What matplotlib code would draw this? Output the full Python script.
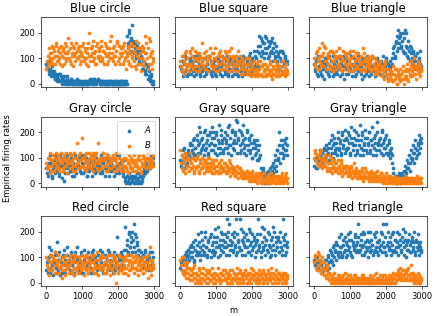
import matplotlib
matplotlib.use("Agg")
import matplotlib.pyplot as plt

# sample positions along m: every 30 steps, plus the in-between points
m = list(range(0, 3000, 30))
m_mid = list(range(15, 3000, 30))

titles = ["Blue circle", "Blue square", "Blue triangle",
          "Gray circle", "Gray square", "Gray triangle",
          "Red circle", "Red square", "Red triangle"]

blue_circle_a = [80, 60, 50, 90, 40, 70, 30, 50, 20, 40,
                 30, 20, 10, 40, 20, 10, 30, 10, 0, 20,
                 10, 0, 10, 20, 0, 10, 0, 10, 0, 10,
                 0, 10, 0, 0, 10, 0, 10, 0, 0, 10,
                 10, 20, 10, 0, 20, 10, 0, 10, 20, 10,
                 0, 10, 0, 10, 0, 0, 10, 0, 10, 0,
                 10, 0, 0, 10, 0, 10, 0, 0, 10, 0,
                 10, 0, 0, 0, 10, 190, 150, 210, 170, 130,
                 230, 160, 140, 110, 150, 120, 90, 130, 80, 100,
                 60, 90, 50, 40, 70, 30, 20, 40, 10, 0]
blue_circle_a2 = [70, 90, 40, 60, 30, 50, 40, 20, 30, 10,
                  20, 40, 10, 30, 0, 20, 10, 0, 10, 30,
                  0, 10, 20, 0, 10, 0, 10, 0, 20, 0,
                  10, 0, 10, 0, 0, 10, 0, 10, 0, 0,
                  20, 10, 0, 10, 20, 0, 10, 20, 10, 0,
                  10, 0, 10, 0, 10, 0, 0, 10, 0, 10,
                  0, 10, 0, 0, 10, 0, 10, 0, 0, 10,
                  0, 10, 0, 10, 0, 160, 200, 130, 180, 150,
                  170, 120, 160, 100, 130, 80, 140, 110, 60, 90,
                  70, 40, 80, 60, 20, 50, 10, 30, 0, 10]
blue_circle_b = [60, 110, 80, 120, 90, 150, 100, 130, 80, 150,
                 110, 90, 140, 120, 70, 130, 100, 160, 90, 120,
                 180, 100, 140, 80, 120, 150, 110, 90, 130, 100,
                 150, 80, 120, 110, 160, 90, 130, 100, 140, 70,
                 200, 110, 150, 90, 120, 130, 80, 160, 100, 140,
                 110, 170, 90, 130, 120, 150, 80, 110, 140, 100,
                 190, 120, 90, 150, 110, 130, 160, 100, 80, 140,
                 120, 150, 90, 130, 60, 110, 140, 80, 120, 160,
                 100, 130, 70, 170, 110, 80, 140, 120, 50, 100,
                 140, 90, 190, 120, 60, 180, 110, 80, 130, 90]
blue_circle_b2 = [90, 70, 140, 100, 120, 80, 140, 110, 160, 90,
                  130, 100, 80, 150, 110, 140, 80, 120, 150, 100,
                  130, 90, 160, 110, 70, 140, 120, 160, 100, 140,
                  110, 130, 90, 150, 100, 140, 80, 120, 160, 110,
                  90, 140, 120, 170, 100, 80, 150, 110, 130, 90,
                  150, 100, 130, 80, 160, 110, 140, 90, 120, 170,
                  100, 140, 110, 80, 130, 170, 90, 150, 120, 110,
                  140, 80, 160, 100, 120, 90, 150, 130, 70, 110,
                  150, 90, 120, 60, 140, 160, 100, 80, 150, 130,
                  70, 120, 160, 100, 140, 80, 170, 120, 60, 100]

blue_square_a = [70, 50, 90, 40, 110, 60, 30, 80, 50, 100,
                 40, 70, 90, 30, 60, 110, 50, 80, 40, 70,
                 90, 60, 30, 100, 50, 80, 60, 110, 40, 70,
                 50, 90, 70, 30, 60, 100, 80, 40, 70, 110,
                 60, 40, 90, 70, 30, 80, 100, 50, 60, 90,
                 40, 70, 110, 60, 30, 80, 50, 90, 70, 40,
                 100, 60, 80, 40, 70, 120, 50, 90, 60, 110,
                 80, 130, 70, 190, 150, 110, 170, 120, 160, 140,
                 180, 100, 150, 120, 170, 90, 140, 160, 110, 130,
                 80, 120, 60, 100, 130, 70, 90, 110, 50, 80]
blue_square_a2 = [60, 90, 30, 80, 50, 100, 70, 40, 90, 60,
                  80, 50, 110, 70, 40, 90, 60, 100, 30, 80,
                  50, 100, 70, 40, 80, 60, 110, 50, 90, 30,
                  80, 60, 40, 100, 70, 50, 90, 60, 30, 80,
                  100, 50, 70, 110, 40, 60, 90, 30, 80, 70,
                  60, 90, 40, 80, 100, 50, 70, 30, 110, 60,
                  50, 90, 70, 110, 40, 80, 100, 60, 130, 70,
                  100, 60, 150, 120, 180, 130, 160, 100, 190, 120,
                  140, 170, 110, 160, 130, 180, 120, 100, 150, 90,
                  110, 60, 130, 90, 50, 120, 80, 100, 60, 90]
blue_square_b = [90, 60, 110, 40, 80, 130, 70, 100, 50, 120,
                 80, 140, 60, 100, 70, 120, 90, 50, 110, 80,
                 160, 70, 100, 60, 130, 90, 50, 110, 80, 120,
                 60, 100, 140, 70, 90, 50, 120, 80, 110, 60,
                 100, 130, 70, 90, 50, 110, 80, 140, 60, 100,
                 80, 50, 110, 70, 130, 90, 60, 100, 40, 80,
                 60, 100, 40, 80, 50, 90, 30, 70, 50, 60,
                 40, 80, 30, 60, 90, 40, 70, 30, 50, 80,
                 30, 60, 40, 90, 50, 20, 70, 40, 60, 30,
                 80, 50, 30, 70, 40, 90, 50, 30, 60, 40]
blue_square_b2 = [70, 110, 50, 90, 120, 60, 100, 80, 130, 70,
                  110, 60, 90, 130, 50, 100, 70, 120, 60, 100,
                  90, 120, 60, 80, 110, 50, 100, 140, 70, 90,
                  120, 70, 100, 50, 110, 80, 130, 60, 90, 100,
                  80, 60, 120, 100, 70, 130, 50, 90, 110, 70,
                  100, 70, 90, 50, 80, 110, 40, 70, 90, 60,
                  80, 50, 70, 100, 40, 60, 80, 40, 90, 30,
                  60, 50, 90, 40, 70, 30, 80, 50, 60, 40,
                  70, 40, 50, 80, 30, 60, 40, 90, 50, 70,
                  40, 70, 60, 40, 90, 50, 70, 40, 80, 50]

blue_triangle_a = [80, 50, 100, 30, 70, 110, 40, 90, 60, 20,
                   70, 100, 50, 80, 30, 90, 60, 110, 40, 70,
                   90, 40, 60, 100, 30, 80, 50, 110, 70, 40,
                   60, 90, 120, 50, 80, 30, 70, 100, 60, 40,
                   80, 110, 50, 70, 20, 90, 60, 100, 40, 80,
                   60, 30, 90, 70, 110, 50, 80, 40, 100, 60,
                   70, 40, 90, 60, 30, 80, 50, 100, 20, 70,
                   60, 40, 80, 120, 150, 100, 170, 130, 210, 160,
                   190, 140, 200, 120, 210, 150, 110, 170, 130, 90,
                   140, 100, 120, 70, 110, 90, 60, 100, 80, 70]
blue_triangle_a2 = [60, 90, 40, 110, 70, 50, 90, 30, 80, 100,
                    50, 80, 40, 110, 70, 50, 90, 30, 80, 60,
                    50, 80, 110, 60, 90, 40, 70, 20, 100, 60,
                    90, 40, 70, 60, 110, 50, 80, 30, 90, 70,
                    50, 70, 90, 40, 100, 60, 30, 80, 110, 50,
                    90, 70, 40, 100, 60, 80, 30, 70, 50, 90,
                    40, 80, 60, 110, 50, 70, 90, 40, 80, 60,
                    90, 70, 100, 140, 110, 160, 190, 140, 180, 200,
                    150, 170, 130, 180, 120, 200, 140, 100, 150, 120,
                    80, 130, 90, 110, 60, 120, 80, 90, 130, 60]
blue_triangle_b = [100, 70, 130, 90, 60, 110, 80, 160, 120, 70,
                   140, 90, 60, 120, 100, 70, 130, 50, 90, 110,
                   60, 100, 80, 140, 70, 110, 50, 90, 120, 80,
                   100, 60, 90, 130, 70, 50, 110, 80, 60, 100,
                   70, 120, 90, 50, 80, 140, 60, 100, 70, 90,
                   110, 60, 80, 50, 100, 70, 40, 90, 60, 80,
                   50, 90, 70, 30, 60, 20, 80, 40, 10, 60,
                   30, 50, 10, 70, 40, 20, 60, 0, 50, 30,
                   10, 40, 70, 20, 50, 30, 80, 10, 60, 40,
                   90, 30, 60, 100, 40, 70, 50, 80, 30, 60]
blue_triangle_b2 = [80, 120, 60, 100, 140, 90, 70, 110, 150, 90,
                    60, 110, 80, 100, 130, 60, 90, 120, 70, 100,
                    130, 70, 110, 60, 90, 100, 130, 60, 80, 110,
                    70, 120, 50, 80, 100, 130, 60, 90, 120, 70,
                    100, 60, 80, 110, 60, 90, 120, 50, 80, 100,
                    70, 90, 50, 110, 60, 80, 100, 50, 70, 40,
                    80, 60, 40, 70, 50, 90, 30, 60, 40, 20,
                    50, 20, 40, 10, 60, 30, 0, 40, 20, 60,
                    40, 20, 50, 0, 30, 60, 20, 50, 30, 70,
                    50, 80, 40, 70, 20, 60, 90, 40, 70, 50]

gray_circle_a = [60, 30, 80, 110, 50, 20, 90, 70, 40, 100,
                 60, 90, 30, 110, 70, 50, 10, 80, 100, 60,
                 40, 90, 70, 110, 50, 80, 30, 60, 100, 70,
                 90, 50, 110, 70, 40, 80, 60, 100, 30, 70,
                 50, 90, 80, 110, 60, 40, 100, 70, 50, 90,
                 70, 110, 40, 80, 60, 100, 50, 90, 30, 70,
                 80, 50, 100, 60, 90, 40, 70, 110, 50, 80,
                 60, 30, 90, 20, 0, 30, 10, 40, 0, 20,
                 10, 0, 30, 20, 0, 40, 10, 30, 0, 20,
                 30, 50, 40, 70, 60, 90, 80, 110, 70, 100]
gray_circle_a2 = [40, 70, 100, 50, 80, 30, 60, 90, 110, 50,
                  80, 40, 70, 100, 20, 90, 60, 40, 80, 110,
                  70, 50, 100, 30, 80, 60, 110, 40, 70, 90,
                  60, 100, 40, 80, 110, 50, 90, 30, 60, 80,
                  100, 60, 30, 70, 90, 110, 50, 80, 60, 40,
                  90, 50, 80, 100, 30, 70, 110, 60, 80, 50,
                  100, 70, 30, 90, 50, 110, 60, 40, 80, 70,
                  90, 40, 60, 10, 30, 0, 20, 0, 30, 10,
                  30, 20, 0, 10, 40, 20, 0, 30, 10, 40,
                  60, 40, 80, 50, 100, 70, 60, 90, 110, 80]
gray_circle_b = [80, 60, 100, 40, 90, 70, 110, 50, 80, 120,
                 70, 90, 50, 100, 80, 60, 110, 90, 70, 40,
                 100, 80, 120, 60, 90, 70, 100, 50, 160, 80,
                 110, 60, 90, 180, 70, 100, 80, 120, 60, 90,
                 70, 110, 90, 50, 100, 80, 120, 60, 160, 90,
                 80, 100, 60, 120, 90, 70, 110, 50, 100, 80,
                 60, 90, 110, 70, 100, 50, 80, 120, 60, 90,
                 80, 50, 100, 70, 60, 90, 40, 80, 70, 100,
                 60, 90, 50, 80, 70, 100, 60, 90, 50, 80,
                 110, 70, 90, 60, 100, 80, 120, 70, 90, 110]
gray_circle_b2 = [60, 100, 70, 120, 50, 90, 80, 100, 60, 90,
                  110, 60, 80, 120, 90, 50, 100, 70, 120, 80,
                  90, 60, 110, 80, 50, 120, 70, 100, 80, 60,
                  90, 120, 70, 100, 60, 110, 50, 90, 80, 120,
                  100, 60, 80, 120, 70, 110, 90, 50, 80, 100,
                  60, 90, 120, 70, 100, 50, 80, 110, 60, 90,
                  100, 70, 50, 90, 120, 80, 60, 100, 70, 50,
                  90, 70, 60, 100, 50, 80, 110, 60, 90, 50,
                  80, 110, 70, 50, 90, 60, 110, 40, 70, 100,
                  80, 100, 60, 120, 70, 90, 60, 100, 80, 70]

gray_square_a = [90, 60, 130, 80, 100, 70, 120, 90, 110, 150,
                 100, 130, 170, 110, 140, 190, 120, 160, 200, 130,
                 180, 150, 110, 210, 140, 170, 120, 190, 160, 220,
                 130, 180, 150, 200, 110, 170, 230, 140, 190, 160,
                 120, 200, 170, 140, 220, 150, 180, 110, 210, 160,
                 130, 190, 250, 240, 170, 120, 200, 160, 230, 140,
                 180, 110, 210, 150, 170, 130, 190, 100, 160, 140,
                 120, 170, 90, 150, 110, 60, 30, 50, 0, 20,
                 40, 10, 30, 60, 20, 50, 80, 60, 110, 70,
                 130, 90, 200, 120, 150, 100, 170, 130, 180, 110]
gray_square_a2 = [70, 110, 90, 140, 60, 110, 80, 130, 160, 100,
                  150, 120, 180, 140, 110, 170, 150, 220, 120, 170,
                  140, 200, 130, 160, 190, 110, 150, 200, 130, 180,
                  200, 150, 120, 190, 140, 160, 120, 210, 170, 130,
                  180, 140, 160, 190, 120, 230, 150, 200, 140, 170,
                  200, 160, 120, 180, 210, 150, 130, 190, 170, 120,
                  150, 200, 130, 180, 120, 160, 100, 140, 170, 110,
                  150, 90, 130, 100, 40, 20, 60, 10, 30, 0,
                  20, 50, 0, 40, 30, 70, 40, 90, 50, 130,
                  100, 150, 80, 170, 120, 140, 110, 160, 130, 150]
gray_square_b = [130, 60, 100, 80, 40, 110, 70, 90, 50, 120,
                 80, 60, 100, 40, 90, 70, 110, 50, 80, 60,
                 100, 70, 40, 90, 60, 80, 50, 100, 70, 40,
                 80, 60, 90, 50, 70, 40, 80, 60, 90, 50,
                 60, 80, 40, 70, 50, 90, 30, 60, 70, 40,
                 60, 30, 50, 70, 40, 60, 30, 50, 40, 20,
                 40, 30, 50, 20, 40, 10, 30, 40, 20, 30,
                 10, 30, 20, 40, 10, 30, 0, 20, 40, 10,
                 20, 0, 30, 10, 40, 20, 10, 30, 0, 20,
                 10, 30, 20, 0, 40, 10, 20, 30, 10, 20]
gray_square_b2 = [80, 110, 50, 90, 120, 60, 100, 70, 90, 60,
                  100, 70, 50, 90, 60, 100, 70, 40, 90, 80,
                  60, 90, 80, 50, 70, 100, 60, 80, 50, 90,
                  60, 40, 70, 90, 50, 80, 40, 70, 50, 60,
                  80, 50, 70, 40, 60, 50, 80, 40, 50, 60,
                  30, 50, 40, 20, 60, 40, 50, 20, 40, 30,
                  20, 50, 30, 10, 40, 20, 50, 10, 30, 20,
                  40, 0, 20, 30, 0, 20, 40, 10, 20, 0,
                  30, 10, 20, 40, 0, 10, 30, 20, 0, 30,
                  0, 20, 10, 30, 20, 0, 10, 20, 40, 0]

gray_triangle_a = [70, 100, 60, 90, 80, 110, 70, 120, 90, 130,
                   100, 150, 110, 140, 90, 170, 120, 150, 180, 130,
                   160, 110, 200, 140, 170, 120, 190, 150, 210, 130,
                   170, 140, 190, 110, 220, 160, 130, 180, 150, 200,
                   120, 170, 230, 140, 190, 110, 160, 210, 130, 180,
                   150, 200, 120, 170, 220, 140, 190, 110, 240, 160,
                   130, 180, 150, 200, 110, 170, 140, 190, 120, 160,
                   100, 140, 110, 40, 20, 10, 30, 0, 20, 40,
                   10, 30, 20, 50, 70, 40, 90, 60, 110, 80,
                   130, 100, 150, 120, 170, 110, 160, 190, 140, 180]
gray_triangle_a2 = [90, 60, 100, 70, 90, 130, 80, 100, 140, 110,
                    130, 90, 120, 160, 110, 140, 190, 100, 160, 120,
                    140, 180, 130, 160, 110, 200, 140, 170, 120, 180,
                    140, 200, 160, 120, 180, 150, 210, 110, 170, 130,
                    190, 150, 110, 170, 200, 130, 150, 180, 120, 160,
                    200, 130, 170, 150, 110, 180, 160, 130, 200, 150,
                    170, 120, 210, 160, 140, 180, 120, 150, 110, 170,
                    130, 120, 80, 60, 30, 0, 20, 10, 30, 0,
                    20, 40, 10, 30, 50, 20, 60, 80, 50, 100,
                    90, 120, 80, 140, 100, 130, 150, 120, 170, 160]
gray_triangle_b = [100, 130, 80, 110, 70, 120, 90, 60, 100, 80,
                   70, 90, 50, 80, 60, 100, 40, 70, 90, 50,
                   80, 60, 40, 70, 50, 90, 30, 60, 40, 70,
                   50, 30, 60, 40, 70, 20, 50, 80, 30, 60,
                   40, 20, 50, 30, 60, 10, 40, 30, 50, 20,
                   40, 10, 30, 50, 20, 40, 10, 30, 50, 20,
                   30, 10, 40, 20, 0, 30, 10, 40, 20, 10,
                   30, 0, 20, 10, 30, 0, 20, 10, 0, 20,
                   10, 0, 20, 10, 0, 30, 10, 0, 20, 10,
                   0, 20, 10, 0, 10, 30, 0, 10, 20, 0]
gray_triangle_b2 = [120, 90, 110, 70, 100, 80, 130, 70, 90, 110,
                    90, 60, 80, 110, 50, 80, 60, 90, 60, 80,
                    50, 90, 60, 40, 80, 50, 70, 40, 60, 50,
                    70, 40, 50, 30, 60, 40, 30, 50, 40, 20,
                    50, 30, 40, 20, 50, 30, 20, 60, 20, 40,
                    30, 20, 40, 10, 30, 20, 40, 20, 10, 30,
                    20, 40, 10, 30, 20, 10, 0, 20, 30, 0,
                    10, 20, 10, 0, 20, 10, 0, 20, 10, 0,
                    20, 10, 0, 10, 20, 0, 10, 20, 0, 10,
                    20, 0, 10, 20, 0, 10, 20, 0, 10, 20]

red_circle_a = [50, 90, 140, 40, 110, 70, 30, 80, 120, 60,
                160, 50, 90, 30, 100, 70, 130, 40, 80, 110,
                60, 90, 40, 120, 70, 100, 30, 80, 140, 60,
                90, 50, 110, 70, 40, 130, 80, 60, 100, 120,
                70, 40, 90, 130, 60, 100, 80, 50, 110, 70,
                90, 60, 120, 40, 80, 100, 70, 130, 50, 90,
                110, 70, 40, 100, 60, 80, 180, 90, 50, 120,
                70, 100, 60, 220, 130, 170, 110, 190, 140, 160,
                200, 230, 120, 180, 150, 110, 130, 90, 120, 70,
                100, 60, 130, 80, 110, 50, 90, 70, 120, 60]
red_circle_a2 = [80, 40, 100, 60, 130, 50, 90, 110, 70, 40,
                 90, 120, 60, 80, 40, 110, 50, 90, 70, 140,
                 80, 50, 110, 70, 90, 40, 120, 60, 90, 100,
                 50, 80, 120, 40, 90, 60, 110, 70, 40, 80,
                 100, 60, 120, 80, 40, 90, 70, 110, 60, 130,
                 80, 50, 100, 70, 110, 40, 90, 60, 120, 80,
                 60, 90, 120, 50, 80, 110, 60, 100, 70, 90,
                 110, 60, 130, 90, 150, 120, 200, 140, 180, 120,
                 170, 140, 190, 110, 160, 130, 80, 100, 60, 110,
                 80, 120, 60, 90, 70, 100, 120, 50, 80, 100]
red_circle_b = [100, 60, 30, 80, 110, 50, 90, 70, 120, 40,
                80, 110, 60, 90, 20, 70, 100, 50, 80, 60,
                90, 40, 70, 110, 50, 80, 30, 100, 60, 70,
                40, 90, 60, 110, 70, 30, 80, 50, 100, 60,
                70, 110, 50, 80, 40, 90, 60, 120, 30, 70,
                90, 50, 100, 60, 80, 40, 70, 110, 60, 30,
                80, 60, 110, 40, 90, 0, 70, 50, 100, 60,
                80, 40, 70, 100, 60, 90, 30, 80, 50, 110,
                70, 40, 90, 60, 100, 30, 80, 50, 70, 90,
                40, 80, 60, 100, 20, 70, 140, 50, 90, 60]
red_circle_b2 = [70, 90, 50, 110, 80, 60, 100, 40, 90, 70,
                 110, 40, 90, 70, 50, 100, 80, 30, 110, 70,
                 60, 100, 80, 40, 90, 60, 110, 50, 80, 40,
                 100, 70, 50, 80, 100, 60, 110, 80, 40, 90,
                 50, 80, 100, 60, 110, 70, 40, 90, 60, 100,
                 60, 110, 70, 40, 100, 80, 50, 90, 70, 110,
                 50, 90, 70, 100, 60, 80, 40, 110, 70, 50,
                 100, 60, 90, 40, 110, 70, 50, 90, 60, 80,
                 100, 60, 80, 110, 50, 70, 90, 60, 100, 40,
                 70, 100, 50, 80, 110, 60, 90, 30, 80, 70]

red_square_a = [60, 90, 40, 80, 110, 70, 100, 130, 90, 120,
                150, 100, 140, 80, 170, 120, 110, 160, 90, 200,
                130, 150, 110, 180, 140, 100, 170, 130, 190, 120,
                160, 110, 210, 140, 180, 100, 150, 170, 130, 190,
                120, 160, 140, 250, 200, 110, 170, 150, 190, 130,
                180, 140, 250, 120, 160, 250, 130, 170, 200, 150,
                110, 190, 140, 170, 120, 200, 160, 130, 180, 150,
                120, 170, 250, 140, 190, 100, 160, 130, 210, 150,
                170, 120, 190, 140, 110, 180, 150, 200, 130, 160,
                140, 180, 120, 160, 130, 250, 170, 110, 150, 140]
red_square_a2 = [80, 50, 100, 70, 90, 120, 80, 110, 140, 100,
                 120, 160, 90, 130, 110, 150, 190, 120, 140, 110,
                 170, 120, 200, 140, 110, 160, 130, 180, 100, 150,
                 130, 180, 120, 160, 220, 140, 110, 200, 150, 170,
                 140, 190, 110, 180, 150, 230, 130, 160, 120, 200,
                 150, 110, 190, 170, 140, 130, 210, 110, 160, 180,
                 140, 170, 120, 210, 150, 110, 190, 140, 170, 100,
                 160, 190, 130, 150, 120, 220, 140, 180, 110, 170,
                 130, 200, 150, 100, 170, 130, 220, 110, 180, 140,
                 170, 120, 200, 140, 110, 180, 150, 190, 120, 160]
red_square_b = [90, 50, 100, 30, 70, 40, 80, 20, 60, 30,
                50, 10, 40, 70, 20, 30, 0, 50, 10, 40,
                20, 60, 10, 30, 0, 40, 20, 50, 10, 30,
                0, 20, 40, 10, 30, 60, 20, 0, 40, 10,
                30, 50, 10, 20, 40, 0, 30, 10, 50, 20,
                40, 10, 30, 60, 20, 0, 40, 20, 10, 30,
                50, 20, 0, 30, 10, 40, 60, 20, 30, 10,
                0, 40, 20, 50, 10, 30, 20, 0, 40, 10,
                30, 50, 20, 10, 40, 0, 20, 30, 10, 50,
                20, 0, 40, 10, 30, 20, 0, 40, 10, 20]
red_square_b2 = [70, 100, 40, 80, 50, 20, 60, 40, 10, 50,
                 30, 60, 20, 0, 40, 10, 30, 60, 20, 0,
                 40, 10, 30, 50, 20, 0, 40, 10, 30, 60,
                 20, 40, 0, 30, 10, 20, 40, 10, 30, 50,
                 10, 20, 40, 0, 30, 20, 50, 0, 20, 40,
                 20, 30, 0, 40, 10, 50, 20, 30, 0, 40,
                 30, 0, 40, 10, 20, 0, 30, 50, 10, 40,
                 20, 10, 30, 0, 40, 20, 50, 10, 30, 20,
                 0, 40, 10, 30, 60, 20, 40, 0, 30, 20,
                 40, 10, 30, 20, 0, 40, 10, 30, 0, 30]

red_triangle_a = [90, 70, 100, 60, 80, 50, 70, 40, 80, 60,
                  50, 90, 70, 110, 60, 120, 80, 140, 100, 130,
                  90, 150, 110, 180, 120, 140, 100, 170, 130, 160,
                  110, 190, 140, 120, 170, 100, 150, 130, 180, 120,
                  160, 230, 130, 170, 110, 150, 190, 120, 140, 170,
                  100, 160, 200, 130, 150, 120, 180, 140, 160, 110,
                  170, 130, 150, 190, 230, 140, 120, 230, 160, 130,
                  180, 110, 150, 200, 130, 170, 120, 160, 140, 190,
                  150, 120, 210, 140, 170, 100, 160, 130, 190, 150,
                  120, 170, 140, 200, 110, 160, 130, 150, 140, 120]
red_triangle_a2 = [70, 100, 80, 50, 70, 90, 40, 60, 50, 90,
                   70, 50, 100, 80, 130, 90, 110, 70, 150, 120,
                   160, 120, 100, 140, 190, 110, 150, 120, 180, 100,
                   150, 130, 170, 200, 110, 160, 140, 190, 150, 130,
                   180, 120, 150, 190, 140, 200, 110, 160, 130, 200,
                   140, 120, 170, 150, 110, 190, 130, 200, 120, 160,
                   140, 200, 120, 160, 140, 180, 110, 150, 200, 140,
                   160, 130, 190, 120, 170, 140, 200, 110, 150, 170,
                   130, 180, 160, 110, 200, 150, 130, 170, 120, 160,
                   180, 130, 160, 120, 170, 140, 190, 110, 160, 130]
red_triangle_b = [80, 110, 50, 120, 70, 90, 40, 100, 60, 80,
                  50, 30, 70, 20, 40, 10, 30, 0, 20, 10,
                  0, 20, 10, 30, 0, 10, 20, 0, 40, 10,
                  20, 0, 10, 30, 0, 20, 10, 0, 30, 10,
                  0, 20, 10, 0, 30, 10, 20, 0, 10, 20,
                  0, 10, 30, 0, 20, 10, 0, 40, 10, 20,
                  0, 30, 10, 20, 0, 10, 30, 0, 20, 10,
                  20, 0, 10, 40, 20, 0, 30, 10, 50, 20,
                  40, 10, 30, 50, 20, 40, 10, 60, 30, 20,
                  70, 10, 30, 0, 20, 10, 40, 0, 20, 10]
red_triangle_b2 = [100, 60, 90, 70, 110, 50, 80, 60, 30, 50,
                   20, 60, 40, 10, 30, 0, 20, 10, 40, 0,
                   10, 30, 0, 20, 10, 0, 30, 10, 0, 20,
                   10, 30, 0, 10, 20, 0, 30, 10, 20, 0,
                   20, 10, 0, 20, 10, 30, 0, 20, 10, 0,
                   20, 0, 10, 20, 0, 30, 10, 0, 20, 10,
                   10, 0, 20, 30, 10, 0, 20, 10, 0, 30,
                   0, 30, 20, 0, 30, 10, 40, 20, 30, 60,
                   20, 50, 30, 10, 40, 20, 50, 30, 10, 40,
                   20, 40, 10, 30, 0, 20, 10, 30, 0, 20]

series_a = [blue_circle_a + blue_circle_a2, blue_square_a + blue_square_a2,
            blue_triangle_a + blue_triangle_a2,
            gray_circle_a + gray_circle_a2, gray_square_a + gray_square_a2,
            gray_triangle_a + gray_triangle_a2,
            red_circle_a + red_circle_a2, red_square_a + red_square_a2,
            red_triangle_a + red_triangle_a2]
series_b = [blue_circle_b + blue_circle_b2, blue_square_b + blue_square_b2,
            blue_triangle_b + blue_triangle_b2,
            gray_circle_b + gray_circle_b2, gray_square_b + gray_square_b2,
            gray_triangle_b + gray_triangle_b2,
            red_circle_b + red_circle_b2, red_square_b + red_square_b2,
            red_triangle_b + red_triangle_b2]
m_all = m + m_mid

fig, axes = plt.subplots(3, 3, sharex=True, sharey=True,
                         figsize=(437 / 60, 316 / 60), dpi=60)
fig.subplots_adjust(left=0.094, right=0.977, top=0.946, bottom=0.095,
                    wspace=0.136, hspace=0.42)

for k, ax in enumerate(axes.flat):
    ax.scatter(m_all, series_a[k], s=12, color="tab:blue", label="$A$")
    ax.scatter(m_all, series_b[k], s=12, color="tab:orange", label="$B$")
    ax.set_title(titles[k], fontsize=14)

axes[0, 0].set_xlim(-150, 3140)
axes[0, 0].set_ylim(-12.5, 262.5)
axes[0, 0].set_yticks([0, 100, 200])
axes[0, 0].set_xticks([0, 1000, 2000, 3000])
axes[1, 0].legend(loc="upper right")

fig.text(0.535, 0.003, "m", ha="center", va="bottom", fontsize=10)
fig.text(0.008, 0.5, "Empirical firing rates", rotation=90,
         ha="left", va="center", fontsize=10)

fig.savefig("out.png", dpi=60)
